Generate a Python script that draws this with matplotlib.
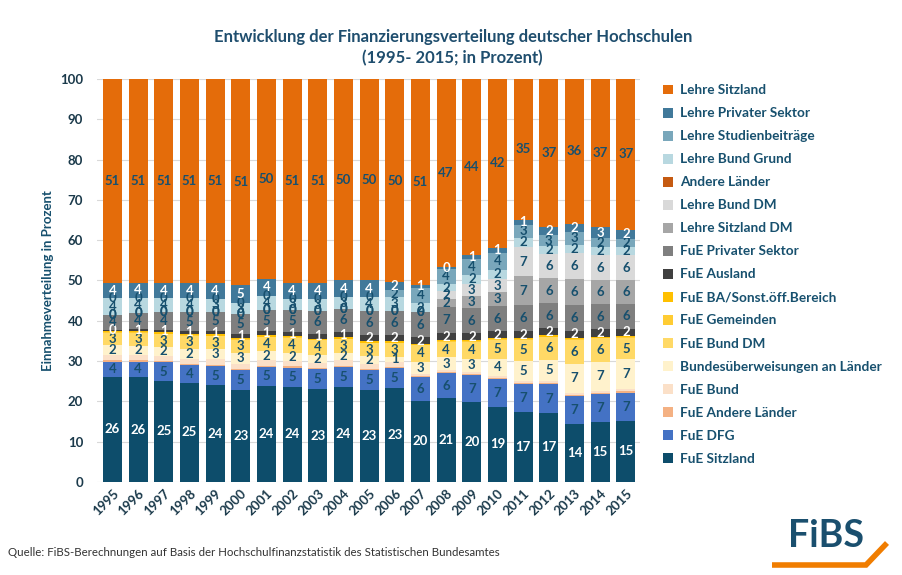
import matplotlib.pyplot as plt
import numpy as np
from matplotlib.lines import Line2D
from matplotlib.patches import Patch

plt.rcParams['font.family'] = ['Lato', 'DejaVu Sans']

years = ['1995', '1996', '1997', '1998', '1999', '2000', '2001', '2002', '2003', '2004', '2005',
         '2006', '2007', '2008', '2009', '2010', '2011', '2012', '2013', '2014', '2015']

# shares in percent, bottom of the stack first
fue_sitzland = [26.1, 26.0, 25.1, 24.6, 24.0, 22.8, 23.8, 23.6, 23.0, 23.6, 22.8,
                23.3, 20.2, 20.8, 19.9, 18.7, 17.4, 17.2, 14.4, 15.0, 15.2]
fue_dfg = [3.8, 3.9, 4.6, 4.4, 4.8, 5.0, 4.8, 4.8, 5.0, 5.0, 5.0,
           4.9, 5.8, 6.2, 6.6, 6.8, 6.8, 7.0, 6.9, 6.8, 7.0]
fue_andere_laender = [0.3, 0.3, 0.3, 0.3, 0.3, 0.3, 0.3, 0.3, 0.3, 0.3, 0.3,
                      0.3, 0.3, 0.3, 0.3, 0.3, 0.3, 0.3, 0.3, 0.3, 0.3]
fue_bund = [1.3, 1.3, 1.3, 1.3, 1.3, 1.3, 1.3, 1.3, 1.3, 1.3, 1.3,
            1.3, 0.6, 0.6, 0.6, 0.6, 0.6, 0.6, 0.6, 0.6, 0.6]
bund_ueberweisungen = [2.4, 2.3, 2.2, 2.4, 2.6, 2.6, 2.2, 2.1, 2.0, 1.9, 1.8,
                       1.3, 3.0, 3.0, 3.2, 4.1, 4.9, 5.2, 7.1, 7.2, 7.3]
fue_bund_dm = [3.1, 3.2, 3.2, 3.3, 3.2, 3.3, 3.6, 3.7, 3.6, 3.4, 3.3,
               3.4, 4.0, 3.9, 4.2, 4.8, 5.3, 5.7, 6.0, 5.8, 5.4]
fue_gemeinden = [0.1, 0.1, 0.1, 0.1, 0.1, 0.1, 0.1, 0.1, 0.1, 0.1, 0.1,
                 0.1, 0.1, 0.1, 0.1, 0.1, 0.1, 0.1, 0.1, 0.1, 0.1]
fue_ba = [0.3, 0.3, 0.3, 0.3, 0.3, 0.3, 0.3, 0.3, 0.3, 0.3, 0.3,
          0.3, 0.3, 0.3, 0.3, 0.3, 0.3, 0.3, 0.3, 0.3, 0.3]
fue_ausland = [0.4, 0.6, 0.7, 0.8, 0.9, 0.9, 1.0, 1.1, 1.2, 1.3, 1.5,
               1.5, 1.6, 1.7, 1.7, 1.7, 1.7, 1.7, 1.8, 1.8, 1.8]
fue_privat = [3.6, 4.0, 4.3, 4.6, 4.8, 5.0, 5.2, 5.4, 5.6, 5.8, 6.0,
              6.1, 6.2, 6.6, 6.3, 6.3, 6.4, 6.2, 6.4, 6.2, 6.2]
lehre_sitzland_dm = [0, 0, 0, 0, 0, 0, 0, 0, 0, 0, 0,
                     0, 0, 2.0, 3.0, 3.4, 7.3, 6.2, 6.4, 6.1, 6.0]
lehre_bund_dm = [0, 0, 0, 0, 0, 0, 0, 0, 0, 0, 0,
                 0, 0, 1.8, 3.0, 3.2, 7.2, 6.0, 6.4, 6.0, 6.0]
andere_laender = [0, 0, 0, 0, 0, 0, 0, 0, 0, 0, 0,
                  0, 0, 0, 0, 0, 0, 0, 0, 0, 0]
lehre_bund_grund = [4.2, 3.7, 3.5, 3.5, 3.2, 2.8, 3.6, 2.7, 3.0, 3.0, 3.6,
                    3.4, 2.3, 1.9, 2.2, 2.4, 2.3, 2.0, 2.2, 2.0, 2.0]
lehre_studienbeitraege = [0, 0, 0, 0, 0, 0, 0, 0, 0, 0, 0,
                          1.7, 3.8, 3.7, 4.0, 4.2, 3.2, 2.8, 3.1, 2.3, 2.2]
lehre_privat = [3.8, 3.7, 3.8, 3.8, 3.9, 4.6, 4.2, 4.0, 4.0, 4.0, 4.0,
                2.0, 0.8, 0.4, 1.0, 1.2, 1.2, 2.0, 2.1, 2.7, 2.2]
lehre_sitzland = [50.6, 50.6, 50.6, 50.6, 50.6, 51.0, 49.6, 50.6, 50.6, 50.0, 50.0,
                  50.4, 51.0, 46.7, 43.6, 41.9, 35.0, 36.7, 35.9, 36.8, 37.4]

navy = '#17506e'
# (label, values, colour, label colour or None)
series = [
    ('FuE Sitzland', fue_sitzland, '#0d4d6b', 'white'),
    ('FuE DFG', fue_dfg, '#4472c4', navy),
    ('FuE Andere Länder', fue_andere_laender, '#f4b183', None),
    ('FuE Bund', fue_bund, '#fbe0c8', None),
    ('Bundesüberweisungen an Länder', bund_ueberweisungen, '#fff2cc', navy),
    ('FuE Bund DM', fue_bund_dm, '#ffd966', navy),
    ('FuE Gemeinden', fue_gemeinden, '#ffcc33', None),
    ('FuE BA/Sonst.öff.Bereich', fue_ba, '#ffc000', None),
    ('FuE Ausland', fue_ausland, '#404040', 'white'),
    ('FuE Privater Sektor', fue_privat, '#7f7f7f', navy),
    ('Lehre Sitzland DM', lehre_sitzland_dm, '#a6a6a6', navy),
    ('Lehre Bund DM', lehre_bund_dm, '#d9d9d9', navy),
    ('Andere Länder', andere_laender, '#c55a11', None),
    ('Lehre Bund Grund', lehre_bund_grund, '#b8d8e0', navy),
    ('Lehre Studienbeiträge', lehre_studienbeitraege, '#79a7bb', navy),
    ('Lehre Privater Sektor', lehre_privat, '#41799a', 'white'),
    ('Lehre Sitzland', lehre_sitzland, '#e46c0a', navy),
]

fig = plt.figure(figsize=(9.02, 5.75), dpi=100)
ax = fig.add_axes([0.1075, 0.1617, 0.602, 0.701])

x = np.arange(len(years))
bottom = np.zeros(len(years))
handles = []
for name, vals, col, lcol in series:
    vals = np.array(vals, dtype=float)
    ax.bar(x, vals, 0.74, bottom=bottom, color=col, zorder=2)
    if lcol is not None:
        for i in range(len(years)):
            ax.text(x[i], bottom[i] + vals[i] / 2, str(int(np.floor(vals[i] + 0.5))),
                    ha='center', va='center', color=lcol, fontsize=9.5,
                    fontweight='bold', zorder=3)
    handles.append(Patch(facecolor=col, label=name))
    bottom += vals

ax.set_xlim(-0.6, len(years) - 0.45)
ax.set_ylim(0, 100)
ax.set_yticks(range(0, 101, 10))
ax.yaxis.grid(True, color='#d9d9d9', lw=0.8, zorder=0)
for s in ax.spines.values():
    s.set_visible(False)
ax.tick_params(length=0)
ax.tick_params(axis='y', pad=10)
ax.set_xticks(x)
ax.set_xticklabels(years, rotation=45, ha='right', va='top', rotation_mode='anchor')
for lab in ax.get_xticklabels() + ax.get_yticklabels():
    lab.set_fontweight('bold')
    lab.set_fontsize(9.5)
    lab.set_color('#1b3a4b')
ax.set_ylabel('Einnahmeverteilung in Prozent', fontsize=9.5, fontweight='bold',
              color=navy, labelpad=4)

fig.text(0.502, 1 - 37 / 575, 'Entwicklung der Finanzierungsverteilung deutscher Hochschulen',
         ha='center', va='center', fontsize=12, fontweight='bold', color='#1f4e6e')
fig.text(0.502, 1 - 58 / 575, '(1995- 2015; in Prozent)',
         ha='center', va='center', fontsize=12, fontweight='bold', color='#1f4e6e')

fig.legend(handles=handles[::-1], loc='upper left', bbox_to_anchor=(651 / 902, 1 - 72 / 575),
           frameon=False, handlelength=0.75, handleheight=0.75,
           handletextpad=0.5, labelspacing=0.81, labelcolor=navy,
           prop={'weight': 'bold', 'size': 9.8})

fig.text(8 / 902, 1 - 553 / 575,
         'Quelle: FiBS-Berechnungen auf Basis der Hochschulfinanzstatistik des Statistischen Bundesamtes',
         ha='left', va='center', fontsize=8.3, color='#333333')

# FiBS logo
fig.text(826 / 902, 1 - 536 / 575, 'FiBS', ha='center', va='center', fontsize=27,
         fontweight='bold', color='#1a4f6e')
fig.add_artist(Line2D([772 / 902, 866 / 902, 887 / 902],
                      [1 - 565 / 575, 1 - 565 / 575, 1 - 543 / 575],
                      transform=fig.transFigure, color='#f07d00', lw=4,
                      solid_capstyle='butt', solid_joinstyle='miter'))

fig.savefig('out.png', dpi=100)
